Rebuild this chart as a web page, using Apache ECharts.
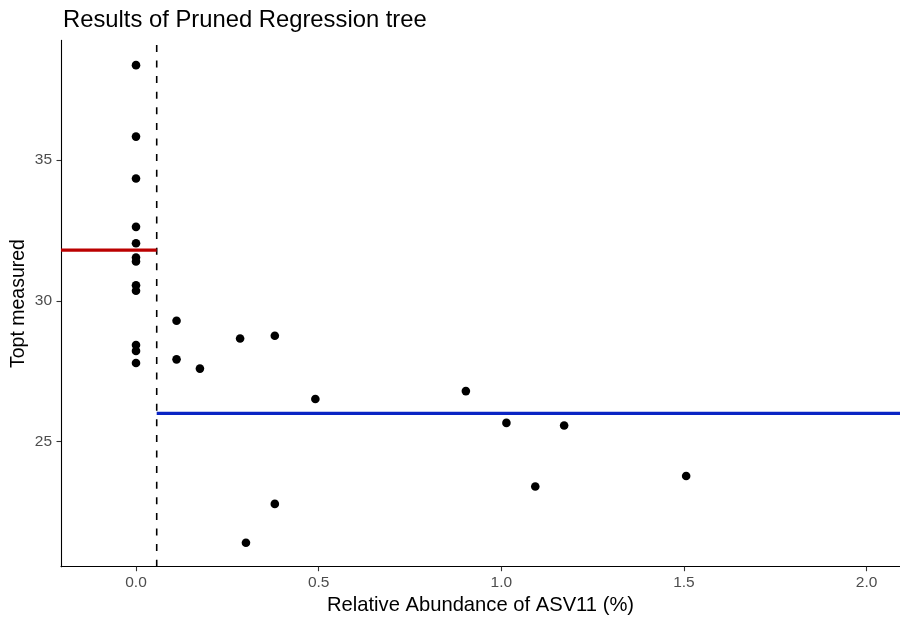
<!DOCTYPE html>
<html>
<head>
<meta charset="utf-8">
<script src="https://cdn.jsdelivr.net/npm/echarts@6/dist/echarts.min.js"></script>
<style>
html,body{margin:0;padding:0;background:#fff;}
#chart{width:900px;height:618px;}
</style>
</head>
<body>
<div id="chart"></div>
<script>
// Relative abundance of ASV11 (%) and measured Topt for each sample
const abundance = [0,0,0,0,0,0,0,0,0,0,0,0,
  0.111,0.111,0.175,0.285,0.380,0.491,0.380,0.301,0.903,1.014,1.172,1.093,1.506];
const topt = [38.38,35.84,34.35,32.63,32.05,31.54,31.40,30.55,30.36,28.43,28.22,27.79,
  29.29,27.92,27.59,28.66,28.76,26.51,22.78,21.40,26.79,25.66,25.57,23.40,23.77];

// Pruned regression tree: split point and leaf means
const splitX = 0.0567;
const leftMean = 31.80;
const rightMean = 26.00;

// Axis ranges and tick labels
const xRange = [-0.2053, 2.0914];
const yRange = [20.547, 39.26];
const xTicks = [0, 0.5, 1.0, 1.5, 2.0];
const yTicks = [25, 30, 35];

const points = abundance.map((x, i) => [x, topt[i]]);

const FONT = '"Liberation Sans", Arial, sans-serif';
const chart = echarts.init(document.getElementById('chart'), null, {renderer: 'canvas'});
chart.setOption({
  animation: false,
  backgroundColor: '#ffffff',
  title: {
    text: 'Results of Pruned Regression tree',
    left: 58, top: 3,
    textStyle: {fontFamily: FONT, fontSize: 23.8, fontWeight: 'normal', color: '#000'}
  },
  grid: {left: 61, right: 0, top: 40.4, bottom: 51.3, containLabel: false, outerBoundsMode: 'none'},
  xAxis: {
    type: 'value',
    min: xRange[0], max: xRange[1],
    name: 'Relative Abundance of ASV11 (%)',
    nameLocation: 'middle', nameGap: 29, nameMoveOverlap: false,
    nameTextStyle: {fontFamily: FONT, fontSize: 20.2, color: '#000'},
    axisLine: {show: true, onZero: false, lineStyle: {color: '#000', width: 1.1}},
    axisTick: {show: true, customValues: xTicks, length: 4.5, lineStyle: {color: '#333', width: 1.1}},
    axisLabel: {customValues: xTicks, formatter: v => v.toFixed(1), margin: 8,
      fontFamily: FONT, fontSize: 15.5, color: '#4D4D4D'},
    splitLine: {show: false}
  },
  yAxis: {
    type: 'value',
    min: yRange[0], max: yRange[1],
    name: 'Topt measured',
    nameLocation: 'middle', nameGap: 32, nameMoveOverlap: false,
    nameTextStyle: {fontFamily: FONT, fontSize: 19.5, color: '#000'},
    axisLine: {show: true, onZero: false, lineStyle: {color: '#000', width: 1.1}},
    axisTick: {show: true, customValues: yTicks, length: 4.5, lineStyle: {color: '#333', width: 1.1}},
    axisLabel: {customValues: yTicks, formatter: v => String(v), margin: 9,
      fontFamily: FONT, fontSize: 15.5, color: '#4D4D4D'},
    splitLine: {show: false}
  },
  series: [
    {
      type: 'line', symbol: 'none', silent: true,
      data: [[splitX, yRange[0]], [splitX, yRange[1]]],
      lineStyle: {color: '#000', width: 1.6, type: [7, 8.6]}
    },
    {
      type: 'line', symbol: 'none', silent: true,
      data: [[xRange[0], leftMean], [splitX, leftMean]],
      lineStyle: {color: '#bb0000', width: 3.2}
    },
    {
      type: 'line', symbol: 'none', silent: true,
      data: [[splitX, rightMean], [xRange[1], rightMean]],
      lineStyle: {color: '#0a24c4', width: 3.2}
    },
    {
      type: 'scatter', symbol: 'circle', symbolSize: 8.6,
      itemStyle: {color: '#000', opacity: 1},
      data: points
    }
  ]
});
</script>
</body>
</html>
